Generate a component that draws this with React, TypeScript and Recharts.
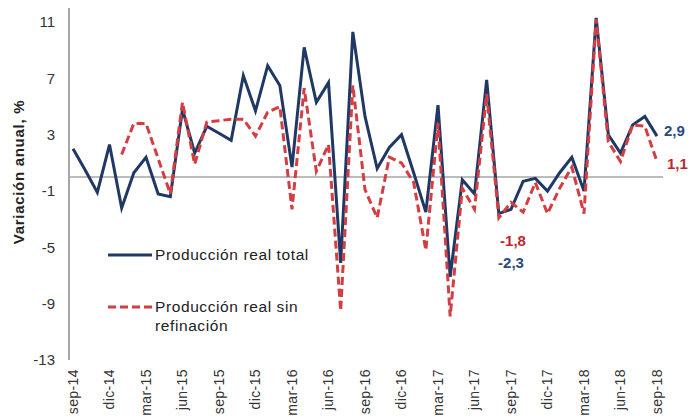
import React from "react";
import { LineChart, Line, XAxis, YAxis, ReferenceLine } from "recharts";

const months = [
  "sep-14", "oct-14", "nov-14", "dic-14",
  "ene-15", "feb-15", "mar-15", "abr-15", "may-15", "jun-15", "jul-15", "ago-15", "sep-15", "oct-15", "nov-15", "dic-15",
  "ene-16", "feb-16", "mar-16", "abr-16", "may-16", "jun-16", "jul-16", "ago-16", "sep-16", "oct-16", "nov-16", "dic-16",
  "ene-17", "feb-17", "mar-17", "abr-17", "may-17", "jun-17", "jul-17", "ago-17", "sep-17", "oct-17", "nov-17", "dic-17",
  "ene-18", "feb-18", "mar-18", "abr-18", "may-18", "jun-18", "jul-18", "ago-18", "sep-18",
];

const totalReal = [
  2.0, 0.5, -1.1, 2.3,
  -2.2, 0.3, 1.4, -1.2, -1.4, 4.8, 1.7, 3.6, 3.1, 2.6, 7.2, 4.7,
  7.9, 6.5, 0.7, 9.2, 5.3, 6.7, -6.1, 10.3, 4.3, 0.6, 2.1, 3.0,
  0.3, -2.5, 5.1, -7.1, -0.2, -1.2, 6.9, -2.6, -2.3, -0.3, -0.1, -1.0,
  0.3, 1.4, -1.0, 11.3, 3.0, 1.7, 3.7, 4.3, 2.9,
];

const sinRefinacion: (number | null)[] = [
  null, null, null, null,
  1.6, 3.8, 3.8, 1.3, -1.2, 5.3, 0.9, 3.9, 4.0, 4.1, 4.1, 2.9,
  4.6, 5.0, -2.3, 6.3, 0.4, 2.3, -9.5, 6.5, -0.9, -2.9, 1.4, 1.0,
  -0.4, -5.2, 3.8, -9.9, -0.8, -2.3, 5.9, -2.9, -1.8, -2.5, -0.4, -2.6,
  -0.8, 0.7, -2.6, 11.2, 2.5, 1.1, 3.7, 3.6, 1.1,
];

const yTicks = [-13, -9, -5, -1, 3, 7, 11];

const seriesNames = ["Producción real total", "Producción real sin", "refinación"];

// labels shown on specific points: [index, text, dx, dy]
const totalLabels: [number, string, number, number][] = [
  [48, "2,9", 7, -5],
  [36, "-2,3", 0, 53],
];
const sinLabels: [number, string, number, number][] = [
  [48, "1,1", 10, 2],
  [36, "-1,8", 2, 38],
];

const data = months.map((m, i) => ({
  month: m,
  total: totalReal[i],
  sin: sinRefinacion[i],
}));

const BLUE = "#1F3864";
const RED = "#D43D42";
const FONT = "'Liberation Sans', Arial, sans-serif";

const XTick = (props: any) => {
  const { x, y, payload } = props;
  const ty = y + 1;
  return (
    <text
      x={x}
      y={ty}
      transform={`rotate(-90 ${x} ${ty})`}
      textAnchor="end"
      dy="0.35em"
      fontSize={14}
      letterSpacing={0.4}
      fill="#333"
      fontFamily={FONT}
    >
      {payload.value}
    </text>
  );
};

const makeLabel = (list: [number, string, number, number][], color: string) => (props: any) => {
  const { x, y, index } = props;
  const found = list.find((l) => l[0] === index);
  if (!found) return <g key={`l-${index}`} />;
  const anchor = found[0] === 48 ? "start" : "middle";
  return (
    <text
      key={`l-${index}`}
      x={x + found[2]}
      y={y + found[3]}
      textAnchor={anchor}
      dy="0.35em"
      fontSize={15}
      fontWeight="bold"
      fill={color}
      fontFamily={FONT}
    >
      {found[1]}
    </text>
  );
};

export default function App() {
  return (
    <div style={{ position: "absolute", left: 0, top: 0, width: 689, height: 419, background: "#fff" }}>
      <LineChart
        width={689}
        height={419}
        data={data}
        margin={{ top: 8, right: 26, bottom: 0, left: 0 }}
      >
        <XAxis
          dataKey="month"
          interval={2}
          axisLine={false}
          tickLine={false}
          height={59}
          padding={{ left: 4, right: 6 }}
          tick={<XTick />}
        />
        <YAxis
          width={69}
          domain={[-13, 12]}
          ticks={yTicks}
          type="number"
          allowDataOverflow
          axisLine={{ stroke: "#A6A6A6", strokeWidth: 2 }}
          tickLine={false}
          tickMargin={8}
          tick={{ fontSize: 15, fill: "#333", fontFamily: FONT }}
          label={(p: any) => (
            <text
              x={19}
              y={172}
              transform="rotate(-90 19 172)"
              textAnchor="middle"
              dy="0.35em"
              fontSize={15}
              letterSpacing={0.7}
              fontWeight="bold"
              fill="#222"
              fontFamily={FONT}
            >
              Variación anual, %
            </text>
          )}
        />
        <ReferenceLine y={0} stroke="#A6A6A6" strokeWidth={1.5} />
        <Line
          type="linear"
          dataKey="total"
          stroke={BLUE}
          strokeWidth={3}
          dot={false}
          isAnimationActive={false}
          label={makeLabel(totalLabels, "#2B4A7E")}
        />
        <Line
          type="linear"
          dataKey="sin"
          stroke={RED}
          strokeWidth={3}
          strokeDasharray="8 4"
          dot={false}
          connectNulls={false}
          isAnimationActive={false}
          label={makeLabel(sinLabels, "#C0272D")}
        />
        <g>
          <line x1={108} y1={255} x2={152} y2={255} stroke={BLUE} strokeWidth={3} />
          <text x={155} y={255} dy="0.35em" fontSize={15.5} letterSpacing={0.6} fill="#222" fontFamily={FONT}>
            {seriesNames[0]}
          </text>
          <line x1={108} y1={307} x2={152} y2={307} stroke={RED} strokeWidth={3} strokeDasharray="8 4" />
          <text x={155} y={307} dy="0.35em" fontSize={15.5} letterSpacing={0.6} fill="#222" fontFamily={FONT}>
            {seriesNames[1]}
          </text>
          <text x={155} y={326} dy="0.35em" fontSize={15.5} letterSpacing={0.6} fill="#222" fontFamily={FONT}>
            {seriesNames[2]}
          </text>
        </g>
      </LineChart>
    </div>
  );
}
